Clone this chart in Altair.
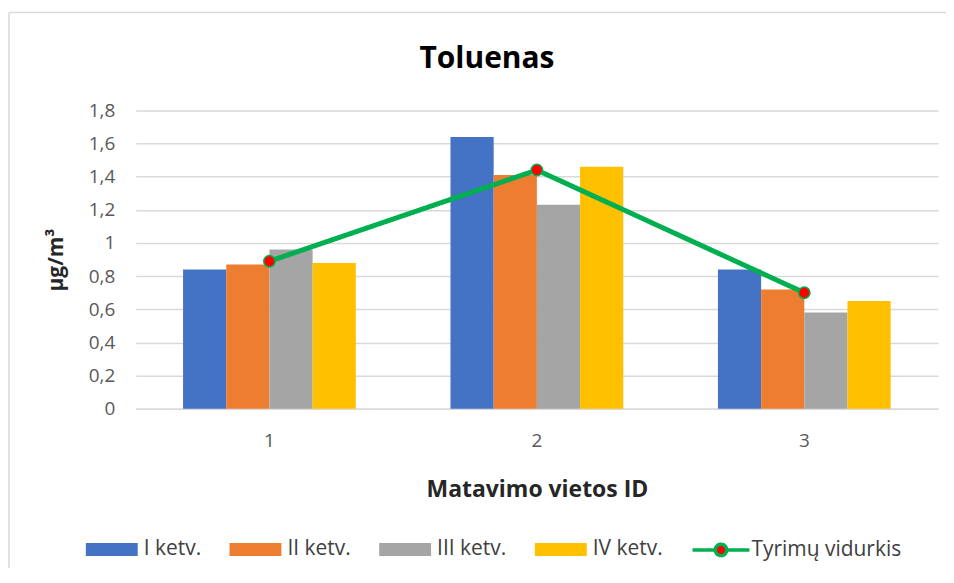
import altair as alt
import pandas as pd

sites = ["1", "2", "3"]
quarters = ["I ketv.", "II ketv.", "III ketv.", "IV ketv."]
q1 = [0.84, 1.64, 0.84]
q2 = [0.87, 1.41, 0.72]
q3 = [0.96, 1.23, 0.58]
q4 = [0.88, 1.46, 0.65]
avg = [0.89, 1.44, 0.70]
avg_label = "Tyrimų vidurkis"
y_ticks = [0, 0.2, 0.4, 0.6, 0.8, 1.0, 1.2, 1.4, 1.6, 1.8]
bar_colors = ["#4472C4", "#ED7D31", "#A5A5A5", "#FFC000"]
LINE_GREEN = "#00B050"
DOT_RED = "#FF0000"

rows = []
for name, vals in zip(quarters, [q1, q2, q3, q4]):
    for s, v in zip(sites, vals):
        rows.append({"site": s, "series": name, "value": v})
bars_df = pd.DataFrame(rows)
avg_df = pd.DataFrame({"site": sites, "series": [avg_label] * len(sites), "value": avg})

FONT = "Open Sans"
GRID = "#D9D9D9"

x_enc = alt.X(
    "site:N", sort=sites,
    scale=alt.Scale(paddingInner=0.354, paddingOuter=0.177),
    title="Matavimo vietos ID",
    axis=alt.Axis(labelAngle=0, labelFontSize=19, labelColor="#595959", labelPadding=23,
                  ticks=False, tickSize=0, domain=True, domainColor=GRID, domainWidth=1.5,
                  grid=False, titleFontSize=23, titleFontWeight="bold", titleColor="#262626",
                  titlePadding=28),
)
y_enc = alt.Y(
    "value:Q",
    scale=alt.Scale(domain=[0, 1.8], nice=False),
    title="µg/m³",
    axis=alt.Axis(values=y_ticks, tickCount=len(y_ticks),
                  labelExpr="replace(format(datum.value, '.1~f'), '.', ',')",
                  labelFontSize=19, labelColor="#595959", labelPadding=21, labelOverlap=False,
                  ticks=False, tickSize=0, domain=False, grid=True, gridColor=GRID, gridWidth=1.5,
                  titleFontSize=21, titleFontWeight="bold", titleColor="#262626", titlePadding=22),
)

rect_path = "M-1,-0.25H1V0.25H-1Z"
line_path = ("M-1,0H-0.2M0.2,0H1M0.2,0A0.2,0.2,0,1,1,-0.2,0"
             "A0.2,0.2,0,1,1,0.2,0Z")

bar_legend = alt.Legend(
    orient="none", legendX=-50, legendY=414, direction="horizontal", columns=4,
    title=None, labelFontSize=21, labelColor="#404040", labelFont=FONT,
    symbolType=rect_path, symbolSize=2704, symbolStrokeWidth=0, symbolOpacity=1,
    columnPadding=28, labelOffset=6, padding=0,
)
line_legend = alt.Legend(
    orient="none", legendX=556, legendY=410, direction="horizontal",
    title=None, labelFontSize=21, labelColor="#404040", labelFont=FONT,
    symbolType=line_path, symbolSize=3249, symbolFillColor=DOT_RED,
    symbolStrokeColor=LINE_GREEN, symbolStrokeWidth=3.5, symbolOpacity=1,
    labelOffset=0, padding=0,
)

frame_left = alt.Chart(alt.Data(values=[{}])).mark_rule(
    color=GRID, strokeWidth=1.5, clip=False
).encode(x=alt.value(-127), y=alt.value(-98), y2=alt.value(480))
frame_top = alt.Chart(alt.Data(values=[{}])).mark_rule(
    color=GRID, strokeWidth=1.5, clip=False
).encode(x=alt.value(-127), x2=alt.value(900), y=alt.value(-98))

bars = alt.Chart(bars_df).mark_bar().encode(
    x=x_enc, y=y_enc,
    xOffset=alt.XOffset("series:N", sort=quarters,
                        scale=alt.Scale(domain=quarters, paddingInner=0, paddingOuter=0)),
    color=alt.Color("series:N", scale=alt.Scale(domain=quarters, range=bar_colors),
                    legend=bar_legend),
)

line = alt.Chart(avg_df).mark_line(strokeWidth=5, color=LINE_GREEN).encode(
    x=alt.X("site:N", sort=sites), y="value:Q",
    strokeDash=alt.StrokeDash("series:N", scale=alt.Scale(domain=[avg_label], range=[[1, 0]]),
                              legend=line_legend),
)

points = alt.Chart(avg_df).mark_point(
    filled=True, fill=DOT_RED, stroke=LINE_GREEN, strokeWidth=1.5, size=130, opacity=1
).encode(x=alt.X("site:N", sort=sites), y="value:Q")

chart = alt.layer(frame_left, frame_top, bars, line, points).resolve_legend(
    color="independent", strokeDash="independent"
).properties(
    width=804, height=299,
    padding={"left": 128, "top": 102, "right": 8, "bottom": 159},
    autosize=alt.AutoSizeParams(type="none"),
    title=alt.TitleParams("Toluenas", fontSize=30, fontWeight="bold", font=FONT,
                          color="#000000", anchor="middle", dx=-50, offset=-62),
).configure(font=FONT).configure_view(stroke=None)

chart.save("out.html", embed_options={"renderer": "svg", "actions": False})
